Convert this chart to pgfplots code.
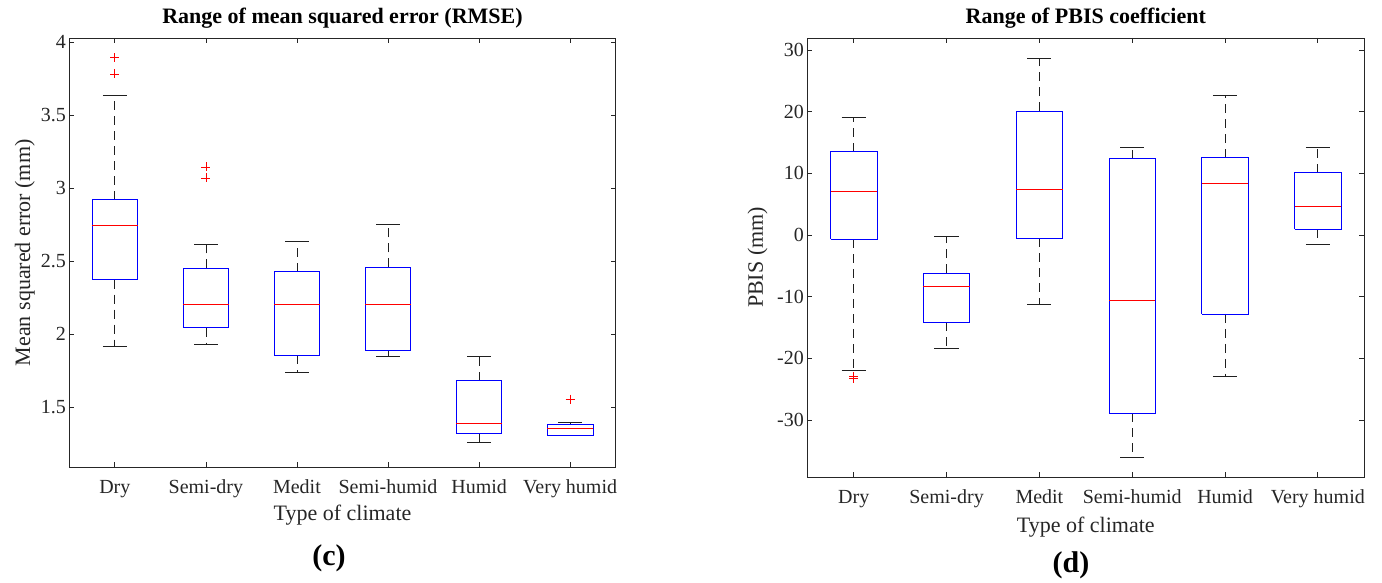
\documentclass[border=0pt]{standalone}
\usepackage{fontspec}
\setmainfont{Liberation Serif}
\usepackage{pgfplots}
\pgfplotsset{compat=1.18}
\definecolor{axgray}{gray}{0.15}
\definecolor{whiskc}{gray}{0.12}
\definecolor{dummyc}{RGB}{0,160,0}
\pgfplotsset{
  common/.style={
    scale only axis,
    xmin=0.5, xmax=6.5,
    xtick={1,2,3,4,5,6},
    xticklabels={Dry,Semi-dry,Medit,Semi-humid,Humid,Very humid},
    tick align=inside, major tick length=5pt,
    axis line style={axgray, line width=0.8pt},
    tick style={axgray, line width=0.8pt},
    ticklabel style={font=\fontsize{20}{24}\selectfont, text=axgray},
    label style={font=\fontsize{22}{26}\selectfont, text=axgray},
    title style={font=\bfseries\fontsize{22}{26}\selectfont, at={(0.5,1)}, anchor=base, yshift=8.3pt},
  },
  whisk/.style={whiskc, line width=0.8pt, mark=none},
  boxc/.style={/utils/exec={\pgfsetstrokecolor{dummyc}}, draw=blue, line width=0.8pt, line join=miter, mark=none},
  medc/.style={/utils/exec={\pgfsetstrokecolor{dummyc}}, draw=red, line width=0.8pt, mark=none},
  outl/.style={only marks, mark=+, mark size=4.5pt, red, mark options={line width=0.8pt}},
}
% #1 position, #2 lower whisker, #3 lower quartile, #4 median, #5 upper quartile, #6 upper whisker
\newcommand{\bxp}[6]{%
  \pgfmathsetmacro\xbl{#1-0.25}\pgfmathsetmacro\xbr{#1+0.25}%
  \pgfmathsetmacro\xcl{#1-0.13}\pgfmathsetmacro\xcr{#1+0.13}%
  \edef\bxtmp{%
    \noexpand\addplot[whisk, dash pattern=on 9pt off 6pt] coordinates {(#1,#3) (#1,#2)};
    \noexpand\addplot[whisk, dash pattern=on 9pt off 6pt] coordinates {(#1,#5) (#1,#6)};
    \noexpand\addplot[whisk] coordinates {(\xcl,#2) (\xcr,#2)};
    \noexpand\addplot[whisk] coordinates {(\xcl,#6) (\xcr,#6)};
    \noexpand\addplot[boxc] coordinates {(\xbl,#3) (\xbr,#3) (\xbr,#5) (\xbl,#5) (\xbl,#3)};
    \noexpand\addplot[medc] coordinates {(\xbl,#4) (\xbr,#4)};
  }\bxtmp}
\begin{document}
\begin{tikzpicture}
\useasboundingbox (0,0) rectangle (1382pt,583pt);
% ---------------- (c) RMSE ----------------
\begin{axis}[common,
  at={(69.3pt,115.7pt)}, anchor=south west,
  width=546.4pt, height=429pt,
  ymin=1.09, ymax=4.027,
  ytick={1.5,2,2.5,3,3.5,4},
  yticklabels={1.5,2,2.5,3,3.5,4},
  xticklabel style={anchor=base, yshift=-26pt},
  title={Range of mean squared error (RMSE)},
  xlabel={Type of climate},
  xlabel style={at={(axis description cs:0.5,0)}, anchor=base, yshift=-53.4pt},
  ylabel={Mean squared error (mm)},
  ylabel style={at={(axis description cs:0,0.5)}, anchor=base, yshift=39.3pt},
]
\bxp{1}{1.921}{2.374}{2.745}{2.921}{3.635}
\bxp{2}{1.928}{2.046}{2.203}{2.451}{2.613}
\bxp{3}{1.741}{1.857}{2.208}{2.429}{2.634}
\bxp{4}{1.850}{1.893}{2.206}{2.458}{2.750}
\bxp{5}{1.263}{1.322}{1.393}{1.684}{1.848}
\bxp{6}{1.306}{1.306}{1.356}{1.384}{1.395}
\addplot[outl] coordinates {(1,3.895) (1,3.783) (2,3.146) (2,3.071) (6,1.557)};
\end{axis}
% ---------------- (d) PBIS ----------------
\begin{axis}[common,
  at={(807.3pt,106pt)}, anchor=south west,
  width=557pt, height=439pt,
  ymin=-39.25, ymax=31.95,
  ytick={-30,-20,-10,0,10,20,30},
  yticklabels={-30,-20,-10,0,10,20,30},
  xticklabel style={anchor=base, yshift=-27pt},
  title={Range of PBIS coefficient},
  xlabel={Type of climate},
  xlabel style={at={(axis description cs:0.5,0)}, anchor=base, yshift=-55.3pt},
  ylabel={PBIS (mm)},
  ylabel style={at={(axis description cs:0,0.5)}, anchor=base, yshift=44.5pt},
]
\bxp{1}{-21.95}{-0.68}{7.0}{13.5}{19.0}
\bxp{2}{-18.4}{-14.15}{-8.4}{-6.2}{-0.26}
\bxp{3}{-11.2}{-0.5}{7.4}{20.1}{28.6}
\bxp{4}{-36.0}{-28.9}{-10.6}{12.4}{14.2}
\bxp{5}{-23.0}{-12.8}{8.3}{12.56}{22.6}
\bxp{6}{-1.6}{0.94}{4.56}{10.1}{14.2}
\addplot[outl] coordinates {(1,-22.9) (1,-23.3)};
\end{axis}
\node[font=\bfseries\fontsize{30}{34}\selectfont, text=black] at (329pt,25pt) {(c)};
\node[font=\bfseries\fontsize{30}{34}\selectfont, text=black] at (1071pt,18pt) {(d)};
\end{tikzpicture}
\end{document}
